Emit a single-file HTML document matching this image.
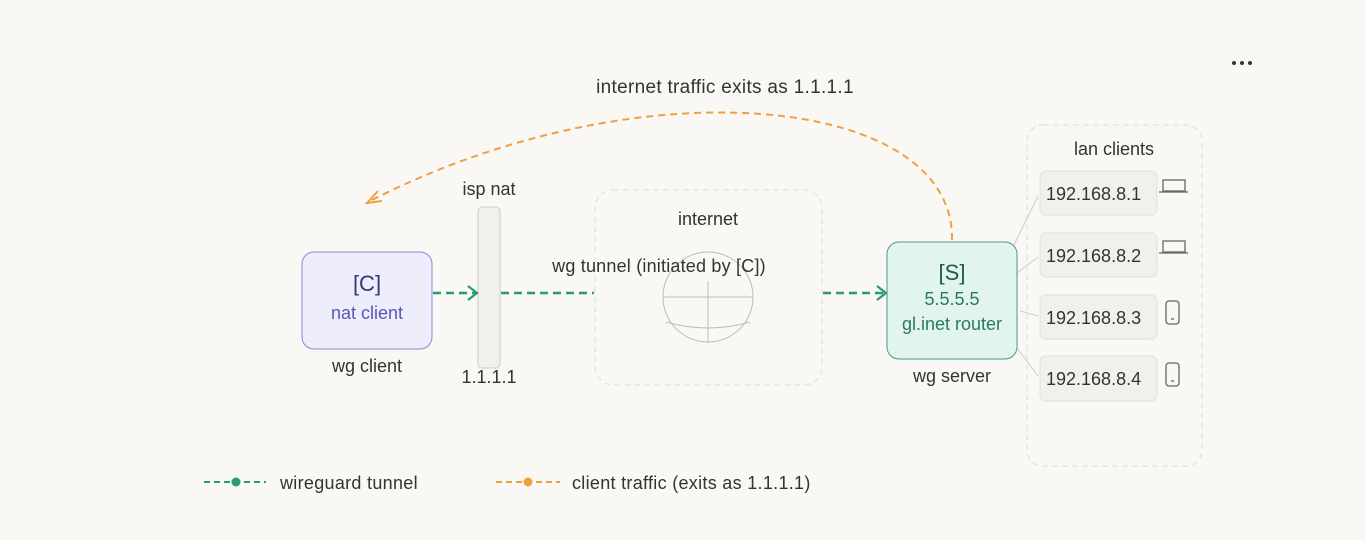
<!DOCTYPE html>
<html><head><meta charset="utf-8"><style>
html,body{margin:0;padding:0;background:#f9f8f5;}
svg{display:block;font-family:"Liberation Sans",sans-serif;}
</style></head><body>
<svg width="1366" height="540" viewBox="0 0 1366 540" xmlns="http://www.w3.org/2000/svg">
<rect width="1366" height="540" fill="#f9f8f5"/>
<circle cx="1234" cy="63" r="2" fill="#333"/><circle cx="1242" cy="63" r="2" fill="#333"/><circle cx="1250" cy="63" r="2" fill="#333"/>
<text x="725" y="93" font-size="19" fill="#333" text-anchor="middle" letter-spacing="0.3">internet traffic exits as 1.1.1.1</text>
<path d="M952,240 C955,95 640,62 368,202" fill="none" stroke="#f0a040" stroke-width="2" stroke-dasharray="7,5"/>
<path d="M378,191 L367,203 L382,201" fill="none" stroke="#f0a040" stroke-width="2"/>
<!-- internet -->
<rect x="595" y="190" width="227" height="195" rx="18" fill="none" stroke="#ddd" stroke-dasharray="6,4"/>
<text x="708" y="225" font-size="18" fill="#333" text-anchor="middle">internet</text>
<circle cx="708" cy="297" r="45" fill="none" stroke="#bbb"/>
<line x1="663" y1="297" x2="753" y2="297" stroke="#bbb"/>
<line x1="708" y1="281" x2="708" y2="343" stroke="#bbb"/>
<path d="M666,322 Q708,334 750,322" fill="none" stroke="#bbb"/>
<!-- lan -->
<rect x="1027" y="125" width="175" height="341" rx="16" fill="none" stroke="#ddd" stroke-dasharray="6,4"/>
<text x="1114" y="155" font-size="18" fill="#333" text-anchor="middle">lan clients</text>
<g stroke="#ccc" stroke-width="1">
<line x1="1014" y1="245" x2="1038" y2="196"/>
<line x1="1017" y1="273" x2="1038" y2="257"/>
<line x1="1020" y1="311" x2="1038" y2="316"/>
<line x1="1017" y1="348" x2="1038" y2="376"/>
</g>
<g fill="#f1f0ec" stroke="#e2e1dd">
<rect x="1040" y="171" width="117" height="44" rx="6"/>
<rect x="1040" y="233" width="117" height="44" rx="6"/>
<rect x="1040" y="295" width="117" height="44" rx="6"/>
<rect x="1040" y="356" width="117" height="45" rx="6"/>
</g>
<g font-size="18" fill="#333">
<text x="1046" y="200">192.168.8.1</text>
<text x="1046" y="262">192.168.8.2</text>
<text x="1046" y="324">192.168.8.3</text>
<text x="1046" y="385">192.168.8.4</text>
</g>
<g fill="none" stroke="#666" stroke-width="1.3">
<rect x="1163" y="180" width="22" height="11"/><line x1="1159" y1="192" x2="1188" y2="192"/>
<rect x="1163" y="241" width="22" height="11"/><line x1="1159" y1="253" x2="1188" y2="253"/>
<rect x="1166" y="301" width="13" height="23" rx="3"/><line x1="1171" y1="319" x2="1174" y2="319"/>
<rect x="1166" y="363" width="13" height="23" rx="3"/><line x1="1171" y1="381" x2="1174" y2="381"/>
</g>
<!-- nat -->
<text x="489" y="195" font-size="18" fill="#333" text-anchor="middle">isp nat</text>
<rect x="478" y="207" width="22" height="161" rx="4" fill="#f1f0ec" stroke="#ccc"/>
<text x="489" y="383" font-size="18" fill="#333" text-anchor="middle">1.1.1.1</text>
<!-- tunnel -->
<g stroke="#2a9a72" stroke-width="2.5" stroke-dasharray="8,5" fill="none">
<line x1="433" y1="293" x2="476" y2="293"/>
<line x1="501" y1="293" x2="594" y2="293"/>
<line x1="823" y1="293" x2="884" y2="293"/>
</g>
<path d="M468,286 L477,293 L468,300" fill="none" stroke="#2a9a72" stroke-width="2.2"/>
<path d="M877,286 L886,293 L877,300" fill="none" stroke="#2a9a72" stroke-width="2.2"/>
<text x="659" y="272" font-size="18" fill="#333" text-anchor="middle" letter-spacing="0.2">wg tunnel (initiated by [C])</text>
<!-- C -->
<rect x="302" y="252" width="130" height="97" rx="12" fill="#ededfb" stroke="#8c88d8"/>
<text x="367" y="291" font-size="22" fill="#3a3580" text-anchor="middle">[C]</text>
<text x="367" y="319" font-size="18" fill="#5a55b8" text-anchor="middle">nat client</text>
<text x="367" y="372" font-size="18" fill="#333" text-anchor="middle">wg client</text>
<!-- S -->
<rect x="887" y="242" width="130" height="117" rx="12" fill="#e2f4ee" stroke="#4a9a80"/>
<text x="952" y="280" font-size="22" fill="#1e5c48" text-anchor="middle">[S]</text>
<text x="952" y="305" font-size="18" fill="#2a7a60" text-anchor="middle">5.5.5.5</text>
<text x="952" y="330" font-size="18" fill="#2a7a60" text-anchor="middle">gl.inet router</text>
<text x="952" y="382" font-size="18" fill="#333" text-anchor="middle">wg server</text>
<!-- legend -->
<line x1="204" y1="482" x2="266" y2="482" stroke="#2a9a72" stroke-width="2" stroke-dasharray="6,4"/>
<circle cx="236" cy="482" r="4.5" fill="#2a9a72"/>
<text x="280" y="489" font-size="18" fill="#333" letter-spacing="0.3">wireguard tunnel</text>
<line x1="496" y1="482" x2="560" y2="482" stroke="#f0a040" stroke-width="2" stroke-dasharray="6,4"/>
<circle cx="528" cy="482" r="4.5" fill="#f0a040"/>
<text x="572" y="489" font-size="18" fill="#333" letter-spacing="0.3">client traffic (exits as 1.1.1.1)</text>
</svg>
</body></html>
